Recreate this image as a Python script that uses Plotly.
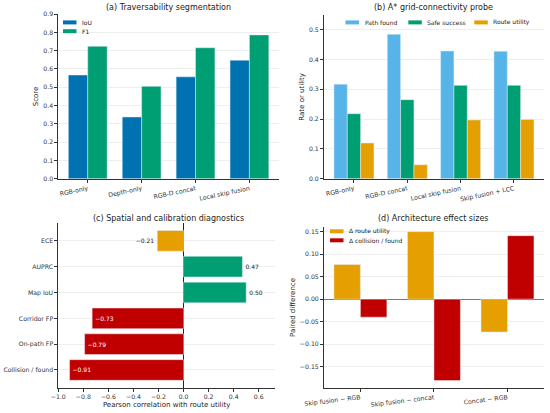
import plotly.graph_objects as go

# (a) segmentation
seg_models = ["RGB-only", "Depth-only", "RGB-D concat", "Local skip fusion"]
seg_iou = [0.567, 0.338, 0.557, 0.648]
seg_f1 = [0.724, 0.505, 0.716, 0.786]

# (b) A* probe
probe_models = ["RGB-only", "RGB-D concat", "Local skip fusion", "Skip fusion + LCC"]
path_found = [0.317, 0.484, 0.428, 0.427]
safe_success = [0.218, 0.265, 0.313, 0.313]
route_utility = [0.120, 0.047, 0.197, 0.199]

# (c) diagnostics, top to bottom
diag_names = ["ECE", "AUPRC", "Map IoU", "Corridor FP", "On-path FP", "Collision / found"]
diag_corr = [-0.21, 0.47, 0.50, -0.73, -0.79, -0.91]

# (d) effect sizes
contrasts = ["Skip fusion \u2212 RGB", "Skip fusion \u2212 concat", "Concat \u2212 RGB"]
d_route = [0.077, 0.150, -0.073]
d_collision = [-0.040, -0.181, 0.141]

BLUE = "#0072B2"
GREEN = "#009E73"
SKY = "#56B4E9"
ORANGE = "#E69F00"
RED = "#C00000"
FONT = "DejaVu Sans"
AX = "#333333"
W, H = 550, 413


def fmt(v):
    s = f"{abs(v):.2f}"
    return ("\u2212" + s) if v < 0 else s


fig = go.Figure()

# (a)
fig.add_trace(go.Bar(x=seg_models, y=seg_iou, name="IoU", marker_color=BLUE, width=0.36,
                     offset=-0.36, xaxis="x", yaxis="y"))
fig.add_trace(go.Bar(x=seg_models, y=seg_f1, name="F1", marker_color=GREEN, width=0.36,
                     offset=0, xaxis="x", yaxis="y"))

# (b)
for vals, nm, col, off in [(path_found, "Path found", SKY, -0.375),
                           (safe_success, "Safe success", GREEN, -0.125),
                           (route_utility, "Route utility", ORANGE, 0.125)]:
    fig.add_trace(go.Bar(x=probe_models, y=vals, name=nm, marker_color=col, width=0.25,
                         offset=off, xaxis="x2", yaxis="y2"))

# (c)
diag_colors = [ORANGE if abs(v) < 0.4 else (GREEN if v > 0 else RED) for v in diag_corr]
diag_pos = ["outside" if (v > 0 or abs(v) < 0.4) else "inside" for v in diag_corr]
diag_textcol = ["#222222" if p == "outside" else "white" for p in diag_pos]
fig.add_trace(go.Bar(y=diag_names, x=diag_corr, orientation="h", marker_color=diag_colors,
                     width=0.8, text=[fmt(v) for v in diag_corr], textposition=diag_pos,
                     insidetextanchor="end", textangle=0, cliponaxis=False,
                     textfont=dict(size=6, color=diag_textcol, family=FONT),
                     xaxis="x3", yaxis="y3"))

# (d)
fig.add_trace(go.Bar(x=contrasts, y=d_route, name="\u0394 route utility", marker_color=ORANGE,
                     width=0.36, offset=-0.36, xaxis="x4", yaxis="y4"))
fig.add_trace(go.Bar(x=contrasts, y=d_collision, name="\u0394 collision / found", marker_color=RED,
                     width=0.36, offset=0, xaxis="x4", yaxis="y4"))

tick_font = dict(size=6.2, family=FONT, color="#333333")
title_font = dict(size=7, family=FONT, color="#222222")
base_x = dict(showline=True, linecolor=AX, linewidth=0.8, ticks="outside", ticklen=3,
              tickcolor=AX, tickfont=tick_font, showgrid=False, zeroline=False, automargin=False)
base_y = dict(showline=True, linecolor=AX, linewidth=0.8, ticks="outside", ticklen=3,
              tickcolor=AX, tickfont=tick_font, showgrid=True, gridcolor="#eeeeee",
              gridwidth=0.6, zeroline=False, automargin=False)

shapes = []
annotations = []


def add_legend(items, x_px, y_px, horizontal=False, gap=0):
    # matplotlib-style legend: small wide patch + label
    for i, (label, col) in enumerate(items):
        if horizontal:
            x0, yc = x_px[i], y_px
        else:
            x0, yc = x_px, y_px + i * gap
        shapes.append(dict(type="rect", xref="paper", yref="paper", line_width=0, fillcolor=col,
                           x0=x0 / W, x1=(x0 + 13.5) / W, y0=1 - (yc + 2) / H, y1=1 - (yc - 2) / H))
        annotations.append(dict(text=label, x=(x0 + 17) / W, y=1 - yc / H, xref="paper", yref="paper",
                                xanchor="left", yanchor="middle", showarrow=False,
                                font=dict(size=6, family=FONT, color="#222222")))


add_legend([("IoU", BLUE), ("F1", GREEN)], 63, 22.4, gap=8.8)
add_legend([("Path found", SKY), ("Safe success", GREEN), ("Route utility", ORANGE)],
           [345.5, 408.3, 474.3], 22.4, horizontal=True)
add_legend([("\u0394 route utility", ORANGE), ("\u0394 collision / found", RED)], 330, 231.3, gap=9)

for txt, xc, yc in [("(a) Traversability segmentation", 168, 8),
                    ("(b) A* grid-connectivity probe", 433, 8),
                    ("(c) Spatial and calibration diagnostics", 168, 218.5),
                    ("(d) Architecture effect sizes", 433, 218.5)]:
    annotations.append(dict(text=txt, x=xc / W, y=1 - yc / H, xref="paper", yref="paper",
                            xanchor="center", yanchor="middle", showarrow=False,
                            font=dict(size=8, family=FONT, color="#222222")))

fig.update_layout(
    width=W, height=H,
    margin=dict(l=0, r=0, t=0, b=0),
    paper_bgcolor="white", plot_bgcolor="white",
    font=dict(family=FONT, size=6, color="#222222"),
    barmode="overlay",
    showlegend=False,
    xaxis=dict(base_x, domain=[0.106, 0.507], anchor="y", range=[-0.546, 3.546], tickangle=-12),
    yaxis=dict(base_y, domain=[0.567, 0.966], anchor="x", range=[0, 0.9], dtick=0.1, tickformat=".1f",
               title=dict(text="Score", font=title_font, standoff=3)),
    xaxis2=dict(base_x, domain=[0.589, 0.989], anchor="y2", range=[-0.5625, 3.5625], tickangle=-12),
    yaxis2=dict(base_y, domain=[0.567, 0.964], anchor="x2", range=[0, 0.549], dtick=0.1, tickformat=".1f",
                title=dict(text="Rate or utility", font=title_font, standoff=3)),
    xaxis3=dict(base_x, domain=[0.106, 0.5], anchor="y3", range=[-1.0, 0.73], dtick=0.2, tickformat=".1f",
                zeroline=True, zerolinecolor="#222222", zerolinewidth=0.9,
                title=dict(text="Pearson correlation with route utility", font=title_font, standoff=2)),
    yaxis3=dict(base_y, domain=[0.061, 0.46], anchor="x3", range=[5.69, -0.69]),
    xaxis4=dict(base_x, domain=[0.589, 0.989], anchor="y4", range=[-0.496, 2.496], tickangle=-7),
    yaxis4=dict(base_y, domain=[0.061, 0.45], anchor="x4", range=[-0.197, 0.16], dtick=0.05, tickformat=".2f",
                zeroline=True, zerolinecolor="#777777", zerolinewidth=0.9,
                title=dict(text="Paired difference", font=title_font, standoff=3)),
    shapes=shapes,
    annotations=annotations,
)

# drop the default 8px page margin so the figure sits at the window's corner
fig.write_html("out.html", config={"displayModeBar": False},
               post_script="document.body.style.margin='0';document.body.style.overflow='hidden';")
